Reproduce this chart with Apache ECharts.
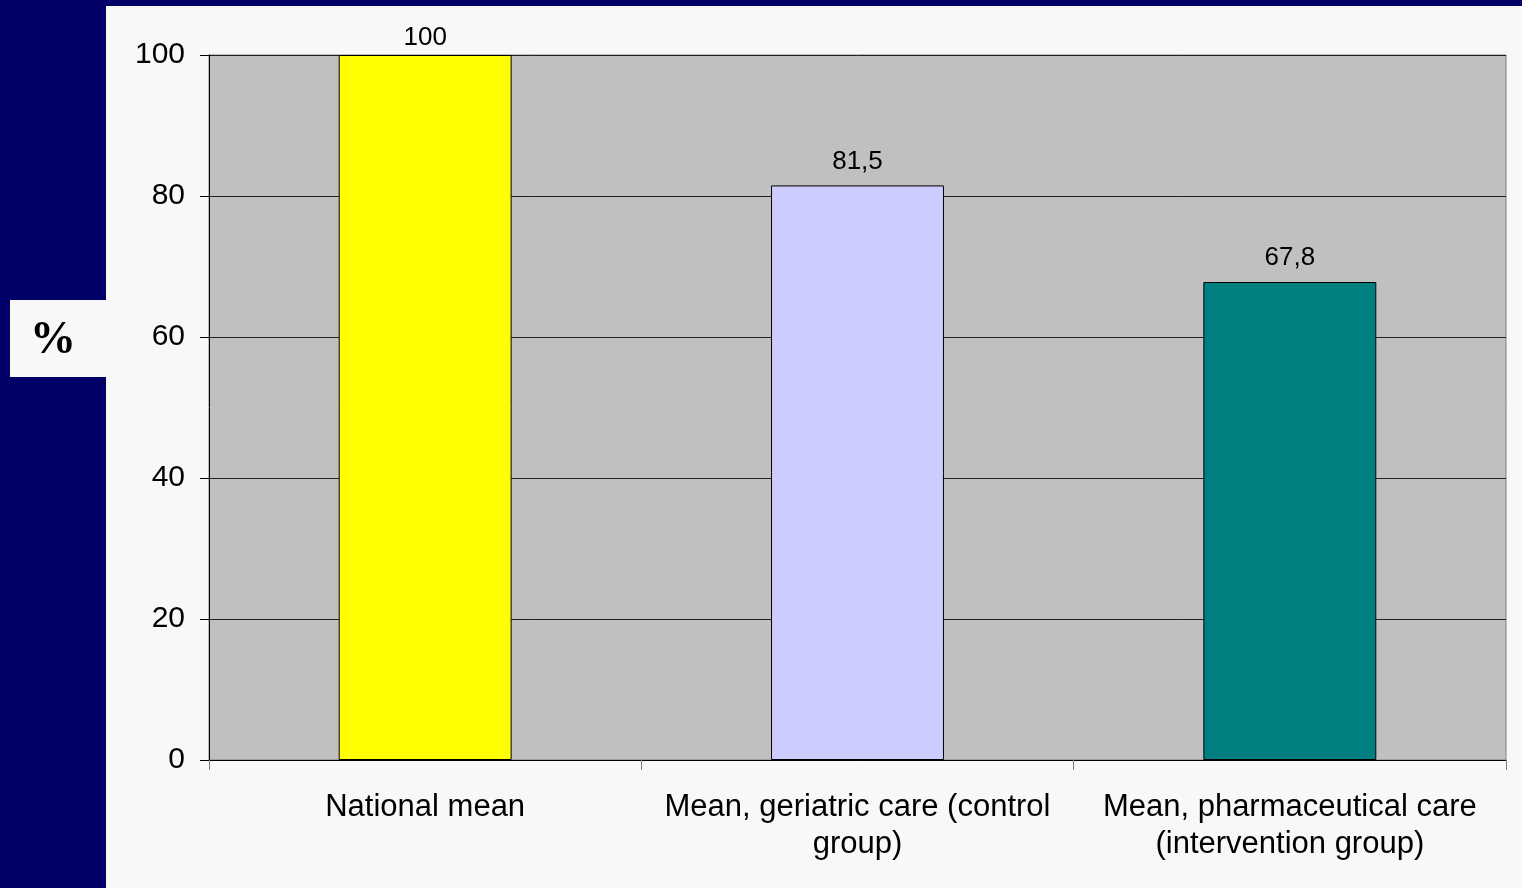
<!DOCTYPE html>
<html>
<head>
<meta charset="utf-8">
<script src="https://cdn.jsdelivr.net/npm/echarts@6/dist/echarts.min.js"></script>
<style>
html, body { margin: 0; padding: 0; width: 1522px; height: 888px; background: #000066; overflow: hidden; }
#bg { position: absolute; left: 106px; top: 6px; right: 0; bottom: 0; background: #F8F8F8; }
#pct { position: absolute; left: 10px; top: 300px; width: 96px; height: 77px; background: #F8F8F8; }
#chart { position: absolute; left: 0; top: 0; width: 1522px; height: 888px; }
</style>
</head>
<body>
<div id="bg"></div>
<div id="pct"></div>
<div id="chart"></div>
<script>
const categories = [
  'National mean',
  'Mean, geriatric care (control\ngroup)',
  'Mean, pharmaceutical care\n(intervention group)'
];
const values = [100, 81.5, 67.8];
const barColors = ['#FFFF00', '#CCCCFF', '#008080'];
const yTicks = [0, 20, 40, 60, 80, 100];

const chart = echarts.init(document.getElementById('chart'), null, { renderer: 'canvas' });
chart.setOption({
  backgroundColor: 'transparent',
  animation: false,
  textStyle: { fontFamily: 'Liberation Sans, Arial, sans-serif' },
  grid: {
    left: 209, right: 16, top: 55, bottom: 128,
    show: true, backgroundColor: '#C0C0C0', borderColor: '#808080', borderWidth: 1
  },
  xAxis: {
    type: 'category',
    data: categories,
    axisLine: { show: true, lineStyle: { color: '#000', width: 1 } },
    axisTick: { show: true, length: 10, lineStyle: { color: '#808080' } },
    axisLabel: { color: '#000', fontSize: 31, lineHeight: 37, margin: 29, interval: 0 }
  },
  yAxis: {
    type: 'value',
    min: yTicks[0], max: yTicks[yTicks.length - 1], interval: 20,
    axisLine: { show: true, lineStyle: { color: '#000', width: 1 } },
    axisTick: { show: true, length: 9, lineStyle: { color: '#000' } },
    axisLabel: { color: '#000', fontSize: 30, margin: 24 },
    splitLine: { show: true, lineStyle: { color: '#222', width: 1 } }
  },
  series: [{
    type: 'bar',
    data: values.map((v, i) => ({
      value: v,
      itemStyle: { color: barColors[i] },
      label: { distance: v >= 100 ? 4 : 11 }
    })),
    barWidth: '40%',
    itemStyle: { borderColor: '#000', borderWidth: 1 },
    label: {
      show: true, position: 'top', color: '#000', fontSize: 26,
      formatter: p => String(p.value).replace('.', ',')
    }
  }],
  graphic: [{
    type: 'text',
    x: 53, y: 341,
    style: {
      text: '%', font: 'bold 46px "Liberation Serif", "Times New Roman", serif', fill: '#000',
      textAlign: 'center', textVerticalAlign: 'middle'
    }
  }]
});
</script>
</body>
</html>
